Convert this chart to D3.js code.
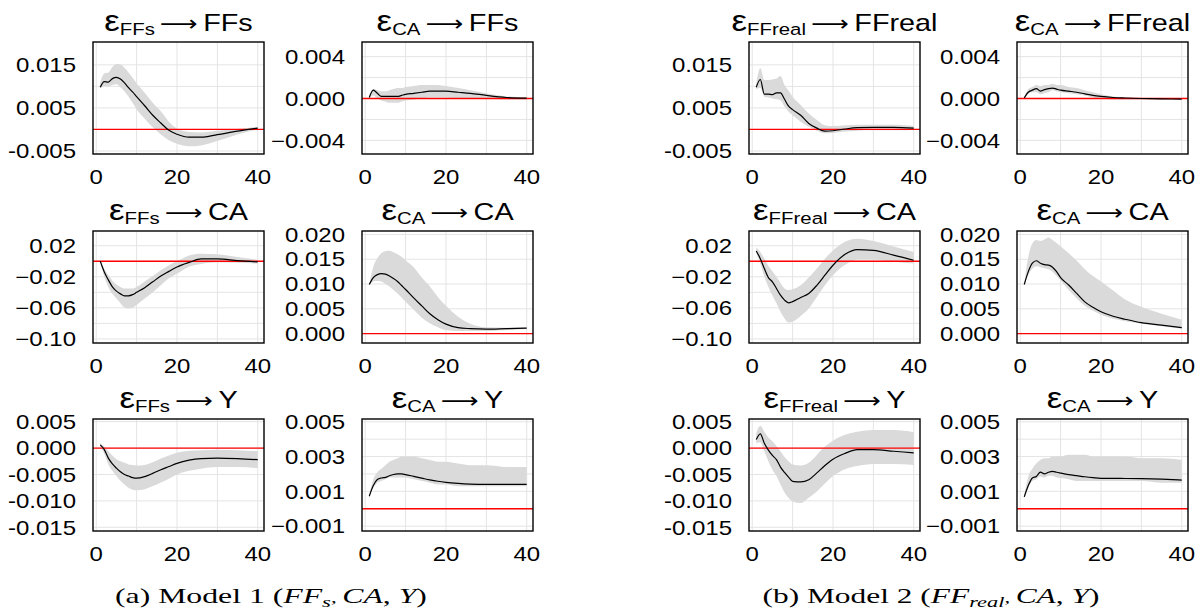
<!DOCTYPE html>
<html>
<head>
<meta charset="utf-8">
<script src="https://cdn.jsdelivr.net/npm/d3@7"></script>
<style>
  body { margin: 0; background: #fff; }
  svg { display: block; }
</style>
</head>
<body>
<div id="chart"></div>
<script>
const horizons = [1,2,3,4,5,6,7,8,9,10,12,14,16,18,20,23,26,30,35,40];

// Model 1 (FFs, CA, Y)
const ffsFfsMid = [0.0098,0.0111,0.0110,0.0118,0.0121,0.0117,0.0108,0.0097,0.0087,0.0076,0.0055,0.0033,0.0015,-0.0002,-0.0011,-0.0018,-0.0018,-0.0012,-0.0004,0.0003];
const ffsFfsHi  = [0.0110,0.0130,0.0132,0.0145,0.0152,0.0151,0.0143,0.0132,0.0120,0.0107,0.0085,0.0062,0.0042,0.0018,0.0002,-0.0006,-0.0007,-0.0003,0.0001,0.0006];
const ffsFfsLo  = [0.0095,0.0100,0.0100,0.0103,0.0105,0.0098,0.0088,0.0076,0.0062,0.0047,0.0025,0.0005,-0.0012,-0.0025,-0.0033,-0.0039,-0.0037,-0.0027,-0.0012,0.0000];

const caFfsMid = [0.0001,0.0008,0.0005,0.0002,0.0002,0.0002,0.0002,0.0002,0.0003,0.0004,0.0005,0.0006,0.0007,0.0007,0.0007,0.0006,0.0005,0.0003,0.0001,0.00003];
const caFfsHi  = [0.0002,0.0009,0.0008,0.0007,0.0007,0.0008,0.0009,0.0010,0.0010,0.0011,0.0012,0.0013,0.0013,0.0013,0.0012,0.0010,0.0008,0.0005,0.0002,0.0001];
const caFfsLo  = [0.0000,0.0003,0.0000,-0.0002,-0.0003,-0.0004,-0.0004,-0.0004,-0.0003,-0.0002,-0.0001,0.0000,0.0001,0.0001,0.0001,0.0000,0.0000,0.0000,-0.0001,-0.0001];

const ffsCaMid = [0.0,-0.0137,-0.024,-0.033,-0.0385,-0.042,-0.0445,-0.0445,-0.043,-0.040,-0.034,-0.0265,-0.019,-0.013,-0.0073,-0.0015,0.003,0.003,0.0008,-0.0009];
const ffsCaHi  = [0.0,-0.010,-0.018,-0.025,-0.030,-0.033,-0.035,-0.035,-0.035,-0.033,-0.026,-0.019,-0.0115,-0.005,0.0,0.0075,0.0098,0.0090,0.0056,0.002];
const ffsCaLo  = [0.0,-0.020,-0.033,-0.042,-0.048,-0.054,-0.0595,-0.061,-0.060,-0.0565,-0.048,-0.040,-0.031,-0.022,-0.016,-0.007,-0.0035,-0.0013,-0.002,-0.003];

const caCaMid = [0.0099,0.0113,0.0119,0.0121,0.0120,0.0116,0.0111,0.0105,0.0097,0.0089,0.0072,0.0056,0.0040,0.0028,0.0019,0.0012,0.0010,0.0009,0.0010,0.0011];
const caCaHi  = [0.0099,0.0135,0.0152,0.0162,0.0166,0.0167,0.0164,0.0160,0.0155,0.0148,0.0134,0.0113,0.0095,0.0074,0.0056,0.0034,0.0020,0.0013,0.0012,0.0013];
const caCaLo  = [0.0098,0.0105,0.0106,0.0105,0.0100,0.0095,0.0088,0.0081,0.0073,0.0064,0.0048,0.0032,0.0021,0.0013,0.0007,0.0005,0.0005,0.0005,0.0007,0.0009];

const ffsYMid = [0.0006,-0.0003,-0.0019,-0.0030,-0.0038,-0.0045,-0.0050,-0.0053,-0.0056,-0.0057,-0.0054,-0.0048,-0.0041,-0.0035,-0.0029,-0.0023,-0.0020,-0.0019,-0.0020,-0.0022];
const ffsYHi  = [0.0009,0.0003,-0.0006,-0.0014,-0.0021,-0.0025,-0.0028,-0.0031,-0.0032,-0.0033,-0.0032,-0.0027,-0.0020,-0.0014,-0.0009,-0.0005,-0.0004,-0.0003,-0.0004,-0.0006];
const ffsYLo  = [0.0003,-0.0011,-0.0031,-0.0043,-0.0053,-0.0062,-0.0069,-0.0075,-0.0079,-0.0080,-0.0078,-0.0072,-0.0065,-0.0058,-0.0050,-0.0043,-0.0039,-0.0036,-0.0036,-0.0038];

const caYMid = [0.00072,0.00133,0.00168,0.00177,0.0018,0.0019,0.00197,0.0020,0.0020,0.00196,0.00186,0.00176,0.00166,0.00158,0.00152,0.00146,0.00142,0.0014,0.0014,0.0014];
const caYHi  = [0.0008,0.0017,0.0021,0.0023,0.0025,0.0027,0.0028,0.0029,0.0030,0.0030,0.0030,0.0029,0.0028,0.0027,0.0027,0.0026,0.0025,0.0025,0.0024,0.0024];
const caYLo  = [0.0007,0.0012,0.0015,0.0016,0.0017,0.0018,0.0018,0.0018,0.0018,0.0018,0.0017,0.0016,0.0015,0.0014,0.0014,0.0013,0.0013,0.0013,0.0013,0.0013];

// Model 2 (FFreal, CA, Y)
const ffrFfrMid = [0.0098,0.0116,0.0082,0.0082,0.0081,0.0085,0.0085,0.0070,0.0054,0.0046,0.0033,0.0014,0.0003,-0.0004,-0.0003,0.0001,0.0004,0.0005,0.0005,0.0003];
const ffrFfrHi  = [0.0107,0.0142,0.0115,0.0115,0.0116,0.0118,0.0124,0.0103,0.0090,0.0076,0.0057,0.0037,0.0022,0.0010,0.0008,0.0010,0.0011,0.0011,0.0011,0.0008];
const ffrFfrLo  = [0.0093,0.0097,0.0076,0.0074,0.0072,0.0070,0.0068,0.0053,0.0041,0.0033,0.0018,0.0006,-0.0003,-0.0009,-0.0008,-0.0005,-0.0003,-0.0002,-0.0002,-0.0001];

const caFfrMid = [0.00006,0.0006,0.0008,0.00095,0.0007,0.00085,0.00095,0.0010,0.0009,0.0008,0.0007,0.0006,0.00045,0.0003,0.0002,0.0001,0.00005,0.0,-0.00003,-0.00006];
const caFfrHi  = [0.0001,0.0009,0.0011,0.0013,0.0012,0.0013,0.0013,0.0014,0.0013,0.0013,0.0011,0.0010,0.0008,0.0006,0.0004,0.0002,0.0001,0.00005,0.0,0.0];
const caFfrLo  = [0.0000,0.0005,0.0006,0.0006,0.0004,0.0005,0.0006,0.0008,0.0007,0.0006,0.0005,0.0004,0.0003,0.0001,0.0,-0.0001,-0.0001,-0.0001,-0.0001,-0.0001];

const ffrCaMid = [0.0133,0.0034,-0.0094,-0.021,-0.0265,-0.035,-0.0437,-0.050,-0.0535,-0.052,-0.0466,-0.0415,-0.031,-0.018,-0.0051,0.0090,0.015,0.014,0.008,0.0013];
const ffrCaHi  = [0.018,0.012,0.0034,-0.006,-0.013,-0.020,-0.028,-0.035,-0.037,-0.036,-0.031,-0.021,-0.0094,0.0034,0.014,0.025,0.029,0.026,0.019,0.012];
const ffrCaLo  = [0.010,-0.003,-0.020,-0.033,-0.044,-0.054,-0.065,-0.0736,-0.079,-0.078,-0.0706,-0.061,-0.046,-0.031,-0.018,-0.0045,0.0021,0.002,-0.0005,-0.003];

const caCa2Mid = [0.0099,0.0125,0.0142,0.0147,0.0142,0.0139,0.0138,0.0134,0.0125,0.0113,0.0098,0.0081,0.0064,0.0053,0.0044,0.0035,0.0029,0.0022,0.0017,0.0012];
const caCa2Hi  = [0.0101,0.0155,0.0182,0.0189,0.0187,0.0190,0.0194,0.0189,0.0183,0.0176,0.0162,0.0147,0.0130,0.0116,0.0105,0.0087,0.0069,0.0054,0.0040,0.0028];
const caCa2Lo  = [0.0098,0.0118,0.0131,0.0136,0.0134,0.0132,0.0130,0.0125,0.0116,0.0107,0.0088,0.0071,0.0056,0.0046,0.0038,0.0030,0.0025,0.0020,0.0015,0.0010];

const ffrYMid = [0.0016,0.0027,0.0009,-0.0004,-0.0014,-0.0022,-0.0036,-0.0046,-0.0055,-0.0063,-0.0064,-0.0060,-0.0047,-0.0033,-0.0021,-0.0010,-0.0003,-0.0003,-0.0006,-0.0009];
const ffrYHi  = [0.0028,0.0042,0.0031,0.0020,0.0013,0.0004,-0.0006,-0.0017,-0.0025,-0.0031,-0.0033,-0.0028,-0.0013,0.0003,0.0014,0.0025,0.0031,0.0034,0.0034,0.0030];
const ffrYLo  = [0.0009,0.0011,-0.0006,-0.0025,-0.0041,-0.0053,-0.0069,-0.0084,-0.0094,-0.0101,-0.0104,-0.0094,-0.0082,-0.0067,-0.0053,-0.0040,-0.0034,-0.0030,-0.0030,-0.0032];

const caY2Mid = [0.00068,0.00133,0.00177,0.00186,0.0021,0.0020,0.0021,0.00215,0.0021,0.00205,0.00196,0.0019,0.00184,0.00179,0.00175,0.00175,0.00174,0.00173,0.0017,0.00165];
const caY2Hi  = [0.0008,0.00186,0.0023,0.0026,0.0028,0.0029,0.0029,0.0030,0.0030,0.0030,0.0031,0.0031,0.0031,0.0030,0.0030,0.0030,0.0030,0.0029,0.0029,0.0028];
const caY2Lo  = [0.0006,0.0012,0.0016,0.0017,0.00186,0.0018,0.0019,0.0019,0.0018,0.00177,0.0017,0.0016,0.0016,0.0016,0.0016,0.0016,0.0016,0.0016,0.0015,0.0015];

// tick labels
const xTicks = [0, 20, 40];
const xGrid = [0, 10, 20, 30, 40];
const ffTicks = [0.015, 0.005, -0.005], ffLabels = ["0.015", "0.005", "-0.005"];
const ffGrid = [0.015, 0.01, 0.005, 0, -0.005];
const caFfTicks = [0.004, 0, -0.004], caFfLabels = ["0.004", "0.000", "\u22120.004"];
const caFfGrid = [0.004, 0.002, 0, -0.002, -0.004];
const ffCaTicks = [0.02, -0.02, -0.06, -0.10], ffCaLabels = ["0.02", "\u22120.02", "\u22120.06", "\u22120.10"];
const ffCaGrid = [0.02, 0, -0.02, -0.04, -0.06, -0.08, -0.10];
const caCaTicks = [0.02, 0.015, 0.01, 0.005, 0], caCaLabels = ["0.020", "0.015", "0.010", "0.005", "0.000"];
const ffYTicks = [0.005, 0, -0.005, -0.01, -0.015], ffYLabels = ["0.005", "0.000", "-0.005", "-0.010", "-0.015"];
const caYTicks = [0.005, 0.003, 0.001, -0.001], caYLabels = ["0.005", "0.003", "0.001", "\u22120.001"];
const caYGrid = [0.005, 0.004, 0.003, 0.002, 0.001, 0, -0.001];

const panels = [
  { col: 0, row: 0, sub: "FFs", to: "FFs", mid: ffsFfsMid, hi: ffsFfsHi, lo: ffsFfsLo, dom: [-0.0057, 0.0203], ticks: ffTicks, labels: ffLabels, grid: ffGrid },
  { col: 1, row: 0, sub: "CA", to: "FFs", mid: caFfsMid, hi: caFfsHi, lo: caFfsLo, dom: [-0.0053, 0.0054], ticks: caFfTicks, labels: caFfLabels, grid: caFfGrid },
  { col: 0, row: 1, sub: "FFs", to: "CA", mid: ffsCaMid, hi: ffsCaHi, lo: ffsCaLo, dom: [-0.1053, 0.039], ticks: ffCaTicks, labels: ffCaLabels, grid: ffCaGrid },
  { col: 1, row: 1, sub: "CA", to: "CA", mid: caCaMid, hi: caCaHi, lo: caCaLo, dom: [-0.0019, 0.0207], ticks: caCaTicks, labels: caCaLabels, grid: caCaTicks },
  { col: 0, row: 2, sub: "FFs", to: "Y", mid: ffsYMid, hi: ffsYHi, lo: ffsYLo, dom: [-0.0157, 0.0055], ticks: ffYTicks, labels: ffYLabels, grid: ffYTicks },
  { col: 1, row: 2, sub: "CA", to: "Y", mid: caYMid, hi: caYHi, lo: caYLo, dom: [-0.00128, 0.00516], ticks: caYTicks, labels: caYLabels, grid: caYGrid },
  { col: 2, row: 0, sub: "FFreal", to: "FFreal", mid: ffrFfrMid, hi: ffrFfrHi, lo: ffrFfrLo, dom: [-0.0057, 0.0203], ticks: ffTicks, labels: ffLabels, grid: ffGrid },
  { col: 3, row: 0, sub: "CA", to: "FFreal", mid: caFfrMid, hi: caFfrHi, lo: caFfrLo, dom: [-0.0053, 0.0054], ticks: caFfTicks, labels: caFfLabels, grid: caFfGrid },
  { col: 2, row: 1, sub: "FFreal", to: "CA", mid: ffrCaMid, hi: ffrCaHi, lo: ffrCaLo, dom: [-0.1053, 0.039], ticks: ffCaTicks, labels: ffCaLabels, grid: ffCaGrid },
  { col: 3, row: 1, sub: "CA", to: "CA", mid: caCa2Mid, hi: caCa2Hi, lo: caCa2Lo, dom: [-0.0019, 0.0207], ticks: caCaTicks, labels: caCaLabels, grid: caCaTicks },
  { col: 2, row: 2, sub: "FFreal", to: "Y", mid: ffrYMid, hi: ffrYHi, lo: ffrYLo, dom: [-0.0157, 0.0055], ticks: ffYTicks, labels: ffYLabels, grid: ffYTicks },
  { col: 3, row: 2, sub: "CA", to: "Y", mid: caY2Mid, hi: caY2Hi, lo: caY2Lo, dom: [-0.00128, 0.00516], ticks: caYTicks, labels: caYLabels, grid: caYGrid }
];

const W = 1202, H = 616;
const colLeft = [93, 362, 749, 1017], rowTop = [42, 231, 419];
const pw = 171, ph = 112;
const sx = 1.2; // glyphs in the reference are stretched horizontally
const font = "'Liberation Sans', Arial, sans-serif";

const svg = d3.select('#chart').append('svg')
    .attr('width', W)
    .attr('height', H);

panels.forEach(function(p) {
    const left = colLeft[p.col], top = rowTop[p.row];
    const x = d3.scaleLinear().domain([-0.8, 41.55]).range([left, left + pw]);
    const y = d3.scaleLinear().domain(p.dom).range([top + ph, top]);
    const data = horizons.map((h, i) => ({ h: h, mid: p.mid[i], lo: p.lo[i], hi: p.hi[i] }));

    const g = svg.append('g');

    // grid
    g.selectAll('.vgrid').data(xGrid).enter().append('line')
        .attr('x1', d => x(d)).attr('x2', d => x(d))
        .attr('y1', top).attr('y2', top + ph)
        .attr('stroke', '#e4e4e4').attr('stroke-width', 1);
    g.selectAll('.hgrid').data(p.grid).enter().append('line')
        .attr('x1', left).attr('x2', left + pw)
        .attr('y1', d => y(d)).attr('y2', d => y(d))
        .attr('stroke', '#e4e4e4').attr('stroke-width', 1);

    // confidence band
    g.append('path')
        .datum(data)
        .attr('fill', '#dadada')
        .attr('d', d3.area().x(d => x(d.h)).y0(d => y(d.lo)).y1(d => y(d.hi)).curve(d3.curveMonotoneX));

    // zero line
    g.append('line')
        .attr('x1', left).attr('x2', left + pw)
        .attr('y1', y(0)).attr('y2', y(0))
        .attr('stroke', '#ff0000').attr('stroke-width', 1.3);

    // response
    g.append('path')
        .datum(data)
        .attr('fill', 'none')
        .attr('stroke', '#000')
        .attr('stroke-width', 1.2)
        .attr('d', d3.line().x(d => x(d.h)).y(d => y(d.mid)).curve(d3.curveMonotoneX));

    // box
    g.append('rect')
        .attr('x', left).attr('y', top)
        .attr('width', pw).attr('height', ph)
        .attr('fill', 'none').attr('stroke', '#000').attr('stroke-width', 1.4);

    // y tick labels
    g.selectAll('.ylab').data(p.ticks).enter().append('text')
        .attr('transform', d => 'translate(' + (left - 17) + ',' + y(d) + ') scale(' + sx + ',1)')
        .attr('dy', '0.36em')
        .attr('text-anchor', 'end')
        .attr('font-family', font).attr('font-size', 20)
        .text((d, i) => p.labels[i]);

    // x tick labels
    g.selectAll('.xlab').data(xTicks).enter().append('text')
        .attr('transform', d => 'translate(' + x(d) + ',' + (top + ph + 30) + ') scale(' + sx + ',1)')
        .attr('text-anchor', 'middle')
        .attr('font-family', font).attr('font-size', 20)
        .text(d => d);

    // title
    const t = g.append('text')
        .attr('transform', 'translate(' + (left + pw / 2) + ',' + (top - 11) + ') scale(' + sx + ',1)')
        .attr('text-anchor', 'middle')
        .attr('font-family', font).attr('font-size', 24);
    t.append('tspan').attr('font-size', 29).text('\u03b5');
    t.append('tspan').attr('font-size', 17).attr('dy', 4).text(p.sub);
    t.append('tspan').attr('dy', -4).attr('font-family', "'DejaVu Sans', sans-serif").attr('font-size', 22).text('\u2009\u27f6\u2009');
    t.append('tspan').text(p.to);
});

// captions
function caption(cx, target, parts) {
    const t = svg.append('text')
        .attr('font-family', "'Liberation Serif', 'DejaVu Serif', serif")
        .attr('font-size', 21);
    parts.forEach(function(s) {
        const ts = t.append('tspan').text(s[0]);
        if (s[1]) ts.attr('font-style', 'italic');
        if (s[2]) ts.attr('font-size', 15).attr('dy', s[2]);
    });
    const bb = t.node().getBBox();
    const k = target / bb.width;
    t.attr('transform', 'translate(' + (cx - target / 2) + ',603) scale(' + k + ',1)');
}
caption(271, 312, [["(a) Model 1 ("], ["FF", 1], ["s", 1, 4], [", ", 0, -4], ["CA", 1], [", "], ["Y", 1], [")"]]);
caption(931, 337, [["(b) Model 2 ("], ["FF", 1], ["real", 1, 4], [", ", 0, -4], ["CA", 1], [", "], ["Y", 1], [")"]]);
</script>
</body>
</html>
